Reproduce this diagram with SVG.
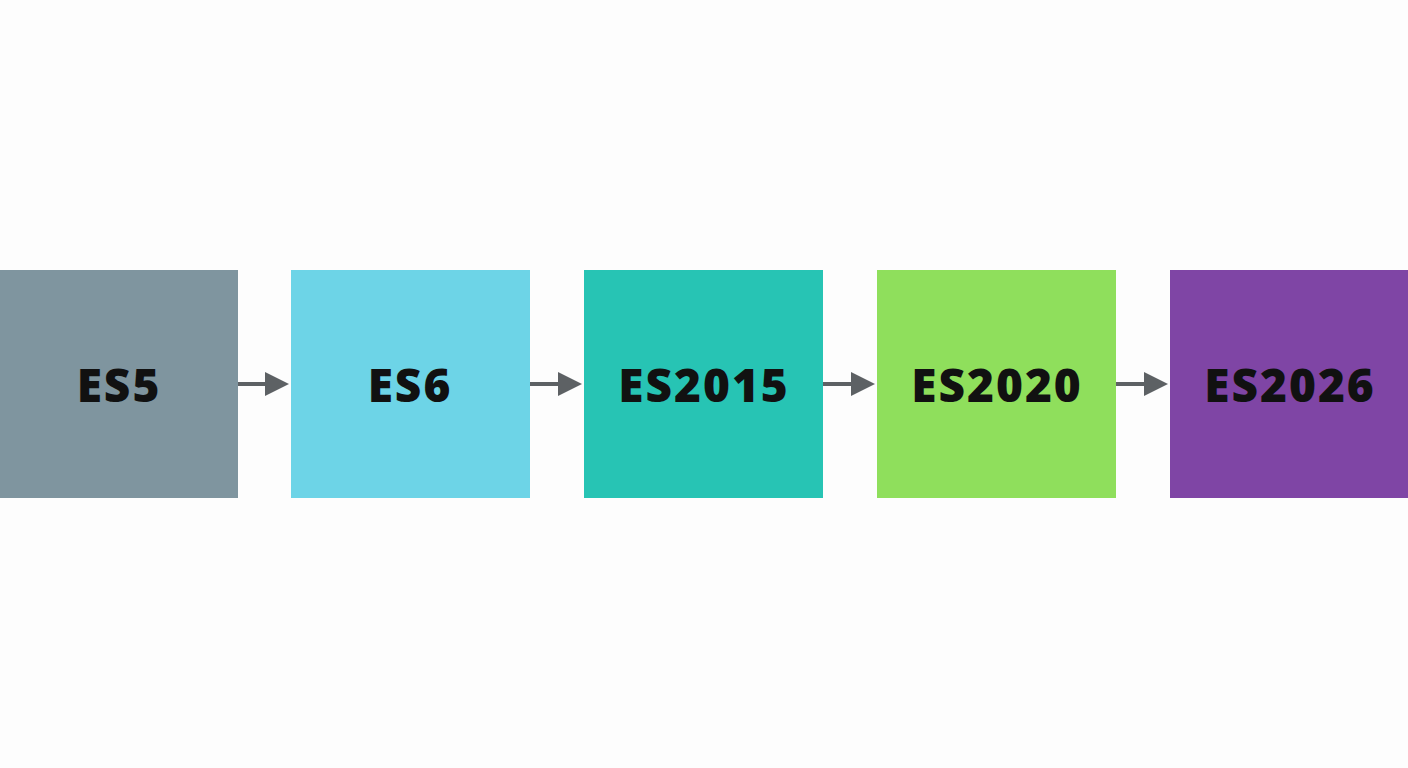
<svg xmlns="http://www.w3.org/2000/svg" width="1408" height="768" viewBox="0 0 1408 768">
<style>
.lbl{font-family:"Open Sans","Liberation Sans",sans-serif;font-weight:800;font-size:46px;letter-spacing:2px;fill:#111;text-anchor:middle;dominant-baseline:central}
.con{stroke:#5d6164;stroke-width:4;fill:none}
</style>
<defs><marker id="ah" markerWidth="6" markerHeight="6" refX="5" refY="3" orient="auto" markerUnits="strokeWidth"><path d="M0,0 L6,3 L0,6 Z" fill="#5d6164"/></marker></defs>
<rect width="1408" height="768" fill="#fdfdfd"/>
<g id="es5"><rect x="0" y="270" width="238" height="228" fill="#7f959f"/><text class="lbl" x="119" y="384">ES5</text></g>
<g id="es6"><rect x="291" y="270" width="239" height="228" fill="#6dd4e7"/><text class="lbl" x="410" y="384">ES6</text></g>
<g id="es2015"><rect x="584" y="270" width="239" height="228" fill="#27c4b4"/><text class="lbl" x="704" y="384">ES2015</text></g>
<g id="es2020"><rect x="877" y="270" width="239" height="228" fill="#8fdf5c"/><text class="lbl" x="997" y="384">ES2020</text></g>
<g id="es2026"><rect x="1170" y="270" width="238" height="228" fill="#7f45a5"/><text class="lbl" x="1290" y="384">ES2026</text></g>
<g id="connectors">
<line class="con" x1="238" y1="384" x2="285" y2="384" marker-end="url(#ah)"/>
<line class="con" x1="530" y1="384" x2="578" y2="384" marker-end="url(#ah)"/>
<line class="con" x1="823" y1="384" x2="871" y2="384" marker-end="url(#ah)"/>
<line class="con" x1="1116" y1="384" x2="1164" y2="384" marker-end="url(#ah)"/>
</g>
</svg>
